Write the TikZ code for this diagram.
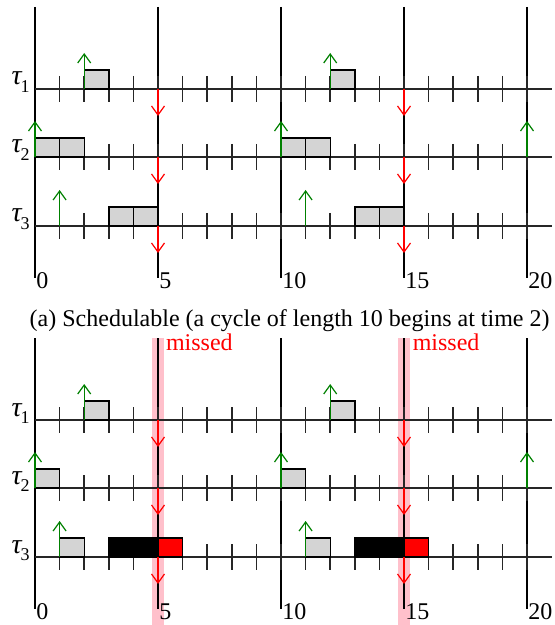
\documentclass[tikz,border=0pt]{standalone}
\usepackage{fontspec}
\setmainfont{Liberation Serif}
\newfontfamily\timesfont{Liberation Serif}
\usetikzlibrary{arrows.meta}
\definecolor{relgreen}{RGB}{0,128,0}
\definecolor{bandpink}{RGB}{255,192,203}
\newcommand{\task}[1]{{\fontsize{14}{14}\selectfont\textit{τ}}\kern-1pt\raisebox{-0.3em}{\fontsize{9}{9}\selectfont #1}}
\newcommand{\timegrid}[1]{%
  \foreach \t in {0,5,...,20}
    \draw[major] (\t,7) -- (\t,278);
  \foreach \r/\y in {1/89,2/157,3/226} {
    \draw[axis] (0,\y) -- (21,\y);
    \foreach \t in {1,...,20}
      \draw[axis] (\t,\y-13) -- (\t,\y+13);
    \node[tasklbl] (#1tau\r) at (0,\y-4) {\task{\r}};
  }
  \foreach \t in {0,5,...,20}
    \node[timelbl] (#1t\t) at (\t,288) {\t};
}
\newcommand{\jobmarks}{%
  \foreach \y/\ts in {89/{2,12},157/{0,10,20},226/{1,11}}
    \foreach \t in \ts
      \draw[rel] (\t,\y) -- (\t,\y-36);
  \foreach \y in {89,157,226}
    \foreach \t in {5,15}
      \draw[dl] (\t,\y) -- (\t,\y+27);
}

\begin{document}
\begin{tikzpicture}[x=12.3pt, y=-0.5pt, font=\timesfont\fontsize{12}{14}\selectfont,
      major/.style={line width=0.75pt},
      axis/.style={line width=0.8pt, black!85},
      job/.style={draw, line width=0.7pt, fill=black!17},
      overrun/.style={draw, line width=0.7pt, fill=black},
      late/.style={draw, line width=0.7pt, fill=red},
      rel/.style={relgreen, line width=0.6pt, -{Straight Barb[length=4.5pt,width=6.5pt]}},
      dl/.style={red, line width=0.6pt, -{Straight Barb[length=4.5pt,width=6.5pt]}},
      tasklbl/.style={anchor=base east, inner sep=2.5pt},
      timelbl/.style={anchor=base west, inner xsep=0.5pt, inner ysep=0pt},
      miss/.style={anchor=base west, inner sep=0pt, text=red}]
    \useasboundingbox (-1.4228,0) rectangle (21.138,625);

    \begin{scope}
      \timegrid{a}
      \foreach \a/\y in {2/89,12/89,0/157,1/157,10/157,11/157,
                         3/226,4/226,13/226,14/226}
        \draw[job] (\a,\y) rectangle (\a+1,\y-19);
      \jobmarks
    \end{scope}

    \node[anchor=base] (capa) at (10.35,326)
      {(a) Schedulable (a cycle of length 10 begins at time 2)};

    \begin{scope}[yshift=-165.5pt]
      \foreach \t in {5,15}
        \fill[bandpink] (\t-0.235,7) rectangle (\t+0.235,294);
      \timegrid{b}
      \foreach \a/\y in {2/89,12/89,0/157,10/157,1/226,11/226}
        \draw[job] (\a,\y) rectangle (\a+1,\y-19);
      \draw[overrun] (3,226) rectangle (5,207);
      \draw[overrun] (13,226) rectangle (15,207);
      \draw[late] (5,226) rectangle (6,207);
      \draw[late] (15,226) rectangle (16,207);
      \jobmarks
      \node[miss, xshift=3.8pt] (missa) at (5,19) {missed};
      \node[miss, xshift=4.2pt] (missb) at (15,19) {missed};
    \end{scope}
  \end{tikzpicture}
\end{document}
